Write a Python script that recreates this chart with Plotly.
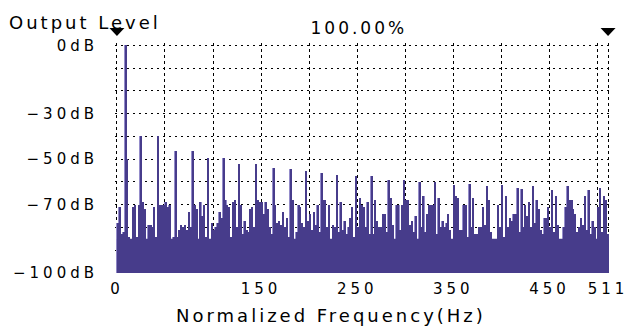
import plotly.graph_objects as go

# ---- data ----
# spectrum level for each 2-bin bar (index i covers bins 2i .. 2i+2), in dB
noise_db = [
    -78, -71, -83, -82, -75, -50, -84, -85, -71, -70, -84, -70, -72, -69, -72, -85,
    -79, -79, -80, -71, -84, -75, -70, -70, -70, -69, -71, -70, -85, -84, -80, -84,
    -81, -79, -80, -79, -81, -73, -80, -75, -70, -72, -85, -69, -75, -70, -84, -80,
    -85, -78, -81, -80, -78, -73, -76, -75, -68, -70, -71, -84, -69, -68, -80, -78,
    -70, -83, -77, -81, -82, -72, -71, -80, -78, -68, -69, -69, -74, -69, -72, -80,
    -83, -78, -70, -78, -77, -79, -73, -80, -76, -84, -78, -68, -86, -82, -70, -71,
    -78, -80, -78, -77, -74, -81, -73, -79, -70, -82, -78, -68, -68, -80, -70, -87,
    -79, -80, -78, -82, -69, -81, -77, -83, -80, -76, -71, -84, -78, -80, -67, -70,
    -71, -80, -69, -83, -78, -83, -68, -77, -80, -80, -74, -74, -82, -78, -67, -79,
    -86, -70, -70, -81, -70, -78, -68, -68, -79, -77, -82, -75, -87, -78, -80, -66,
    -82, -74, -70, -70, -70, -78, -83, -67, -80, -77, -80, -78, -74, -81, -86, -78,
    -66, -67, -81, -81, -70, -70, -84, -78, -80, -67, -83, -83, -80, -80, -71, -79,
    -78, -68, -82, -86, -86, -86, -70, -80, -78, -84, -66, -80, -76, -77, -74, -74,
    -78, -82, -63, -80, -70, -75, -69, -80, -84, -78, -68, -72, -81, -83, -76, -76,
    -71, -80, -78, -82, -66, -79, -86, -88, -80, -71, -78, -68, -68, -72, -74, -82,
    -80, -76, -79, -66, -81, -78, -83, -77, -80, -86, -71, -78, -82, -66, -68, -83,
]

# fundamental and harmonic peaks: bin position and level (dB)
harm_bin = [9, 24.5, 43.5, 60.2, 78.6, 94.8, 110.6, 127, 145.5, 162,
            180.6, 196.8, 212.7, 229.6, 248.5, 264, 282.7, 298.5, 315.4, 331.6,
            350, 366.8, 384.4, 401.2, 416.5, 433.6, 452, 468.5, 490.9, 503.6]
harm_db = [0, -40, -40, -46.5, -46.5, -49.5, -49.5, -52, -52, -54,
           -54.5, -55, -56, -57, -57.5, -57.5, -59, -59, -60, -60,
           -61.3, -61, -62, -61.5, -62.5, -62, -63.4, -62, -63.4, -62.7]

# solid noise floor level (dB)
floor_db = -85

# cursor markers (bin positions)
cursor_bin = [0, 511]

x_tickvals = [0, 50, 100, 150, 200, 250, 300, 350, 400, 450, 500, 511]
x_ticktext = ["0", "", "", "150", "", "250", "", "350", "", "450", "", "511"]
y_tickvals = [0, -10, -20, -30, -40, -50, -60, -70, -80, -90, -100]
y_ticktext = ["0dB", "", "", "\u221230dB", "", "\u221250dB", "", "\u221270dB", "", "", "\u2212100dB"]

BOTTOM = -100
X_RANGE = [-2, 513]
Y_RANGE = [-100, 1.0]

# ---- combine ----
level = list(noise_db)
for b, d in zip(harm_bin, harm_db):
    i = int(b // 2)
    level[i] = max(level[i], d)
centers = [2 * i + 1 for i in range(len(level))]
heights = [v - BOTTOM for v in level]

DARK = "#473c8b"
LIGHT = "#948cca"
FONT = "DejaVu Sans"

fig = go.Figure()
# light edge of every bar
fig.add_trace(go.Bar(
    x=centers, y=heights, base=BOTTOM, width=2,
    marker=dict(color=LIGHT, line=dict(width=0)),
    hoverinfo="skip", showlegend=False,
))
# dark core of every bar
fig.add_trace(go.Bar(
    x=centers, y=heights, base=BOTTOM, width=1.15,
    marker=dict(color=DARK, line=dict(width=0)),
    hoverinfo="skip", showlegend=False,
))

shapes = [
    # solid noise floor
    dict(type="rect", xref="x", yref="y", x0=0, x1=511, y0=BOTTOM, y1=floor_db,
         fillcolor=DARK, line=dict(width=0), layer="above"),
]
for b in cursor_bin:
    xfrac = (b - X_RANGE[0]) / (X_RANGE[1] - X_RANGE[0])
    shapes.append(dict(
        type="path", xref="paper", yref="paper", xsizemode="pixel", ysizemode="pixel",
        xanchor=xfrac, yanchor=1, path="M -7.5,15 L 7.5,15 L 0,7 Z",
        fillcolor="black", line=dict(width=0), layer="above",
    ))

fig.update_layout(
    width=639, height=326,
    margin=dict(l=115, r=29, t=43, b=53),
    paper_bgcolor="white", plot_bgcolor="white",
    bargap=0, barmode="overlay",
    font=dict(family=FONT, color="black", size=15),
    xaxis=dict(
        range=X_RANGE, tickmode="array", tickvals=x_tickvals, ticktext=x_ticktext,
        showgrid=True, gridcolor="black", griddash="dot", gridwidth=1,
        zeroline=False, showline=False,
        ticks="", ticklabelstandoff=5, tickfont=dict(size=15),
    ),
    yaxis=dict(
        range=Y_RANGE, tickmode="array", tickvals=y_tickvals, ticktext=y_ticktext,
        showgrid=True, gridcolor="black", griddash="2px,4px", gridwidth=1,
        zeroline=False, showline=False, ticks="", ticklabelstandoff=16,
        tickfont=dict(size=15),
    ),
    shapes=shapes,
    annotations=[
        dict(text="Output Level", xref="paper", yref="paper", x=-0.0596, y=1.09,
             xanchor="center", yanchor="middle", showarrow=False, font=dict(size=18)),
        dict(text="100.00%", xref="paper", yref="paper", x=0.493, y=1.065,
             xanchor="center", yanchor="middle", showarrow=False, font=dict(size=17)),
        dict(text="Normalized Frequency(Hz)", xref="paper", yref="paper", x=0.436, y=-0.183,
             xanchor="center", yanchor="middle", showarrow=False, font=dict(size=18)),
    ],
)

post = """
var gd = document.getElementById('{plot_id}');
function spacing(){
  gd.querySelectorAll('.xtick text, .ytick text').forEach(function(t){t.style.letterSpacing='4px';});
  gd.querySelectorAll('.annotation-text').forEach(function(t){t.style.letterSpacing='3px';});
}
spacing();
gd.on('plotly_afterplot', spacing);
"""
fig.write_html("out.html", post_script=post)
